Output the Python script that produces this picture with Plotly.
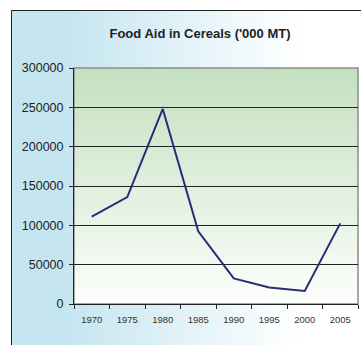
import plotly.graph_objects as go

# Food aid shipments of cereals, thousand metric tons
years = ["1970", "1975", "1980", "1985", "1990", "1995", "2000", "2005"]
food_aid = [111000, 136000, 248000, 92500, 32500, 21000, 16500, 102500]
y_ticks = [0, 50000, 100000, 150000, 200000, 250000, 300000]

W, H = 361, 345
L, R, T, B = 74, 3, 68, 41
pw, ph = W - L - R, H - T - B


def px_x(px):
    return (px - L) / pw


def px_y(py):
    return (H - B - py) / ph


def mix(c1, c2, t):
    return "rgb(%d,%d,%d)" % tuple(round(a + (b - a) * t) for a, b in zip(c1, c2))


shapes = []

# horizontal blue-to-white wash over the chart area
blue, white = (196, 229, 240), (255, 255, 255)
n = 80
x0, x1 = 11, 361
for i in range(n):
    a = x0 + (x1 - x0) * i / n
    b = x0 + (x1 - x0) * (i + 1) / n + 0.5
    t = min(1.0, max(0.0, (a - 60) / 240))
    shapes.append(dict(type="rect", xref="paper", yref="paper",
                       x0=px_x(a), x1=px_x(b), y0=px_y(345), y1=px_y(10),
                       fillcolor=mix(blue, white, t), line_width=0, layer="below"))

# vertical green-to-white wash inside the plot area
green, pale = (196, 224, 192), (252, 254, 251)
m = 60
for i in range(m):
    a = i / m
    b = (i + 1) / m + 0.004
    shapes.append(dict(type="rect", xref="paper", yref="paper",
                       x0=0, x1=1, y0=1 - min(b, 1), y1=1 - a,
                       fillcolor=mix(green, pale, (a + b) / 2), line_width=0, layer="below"))

# chart area frame
shapes.append(dict(type="rect", xref="paper", yref="paper",
                   x0=px_x(11.5), x1=px_x(400), y0=px_y(400), y1=px_y(10.5),
                   line=dict(color="#222222", width=1), fillcolor="rgba(0,0,0,0)", layer="above"))
# plot area frame
shapes.append(dict(type="rect", xref="paper", yref="paper",
                   x0=0, x1=1, y0=0, y1=1,
                   line=dict(color="#8c8c8c", width=1.5), fillcolor="rgba(0,0,0,0)", layer="below"))

fig = go.Figure(go.Scatter(
    x=years, y=food_aid, mode="lines",
    line=dict(color="#2a2a78", width=2),
    hoverinfo="x+y",
))

fig.update_layout(
    width=W, height=H,
    margin=dict(l=L, r=R, t=T, b=B),
    paper_bgcolor="white",
    plot_bgcolor="rgba(0,0,0,0)",
    showlegend=False,
    shapes=shapes,
    title=dict(text="<b>Food Aid in Cereals ('000 MT)</b>",
               x=200 / W, xanchor="center",
               y=1 - 33 / H, yanchor="middle",
               font=dict(family="Liberation Sans, Arial, sans-serif", size=13, color="#222222")),
    font=dict(family="Liberation Sans, Arial, sans-serif", color="#222222"),
)

fig.update_xaxes(
    type="category", range=[-0.5, 7.5],
    tickson="boundaries", ticks="outside", ticklen=4, tickcolor="#222222",
    showline=True, linecolor="#222222", linewidth=1,
    showgrid=False, tickfont=dict(size=9.5, color="#333333"),
    ticklabelstandoff=7,
)
fig.update_yaxes(
    range=[0, 300000], tickvals=y_ticks, ticktext=[str(v) for v in y_ticks],
    ticks="outside", ticklen=4, tickcolor="#222222",
    showline=True, linecolor="#222222", linewidth=1,
    showgrid=True, gridcolor="#222222", gridwidth=1,
    zeroline=False, tickfont=dict(size=12.5), ticklabelstandoff=3,
)

fig.write_html("out.html")
